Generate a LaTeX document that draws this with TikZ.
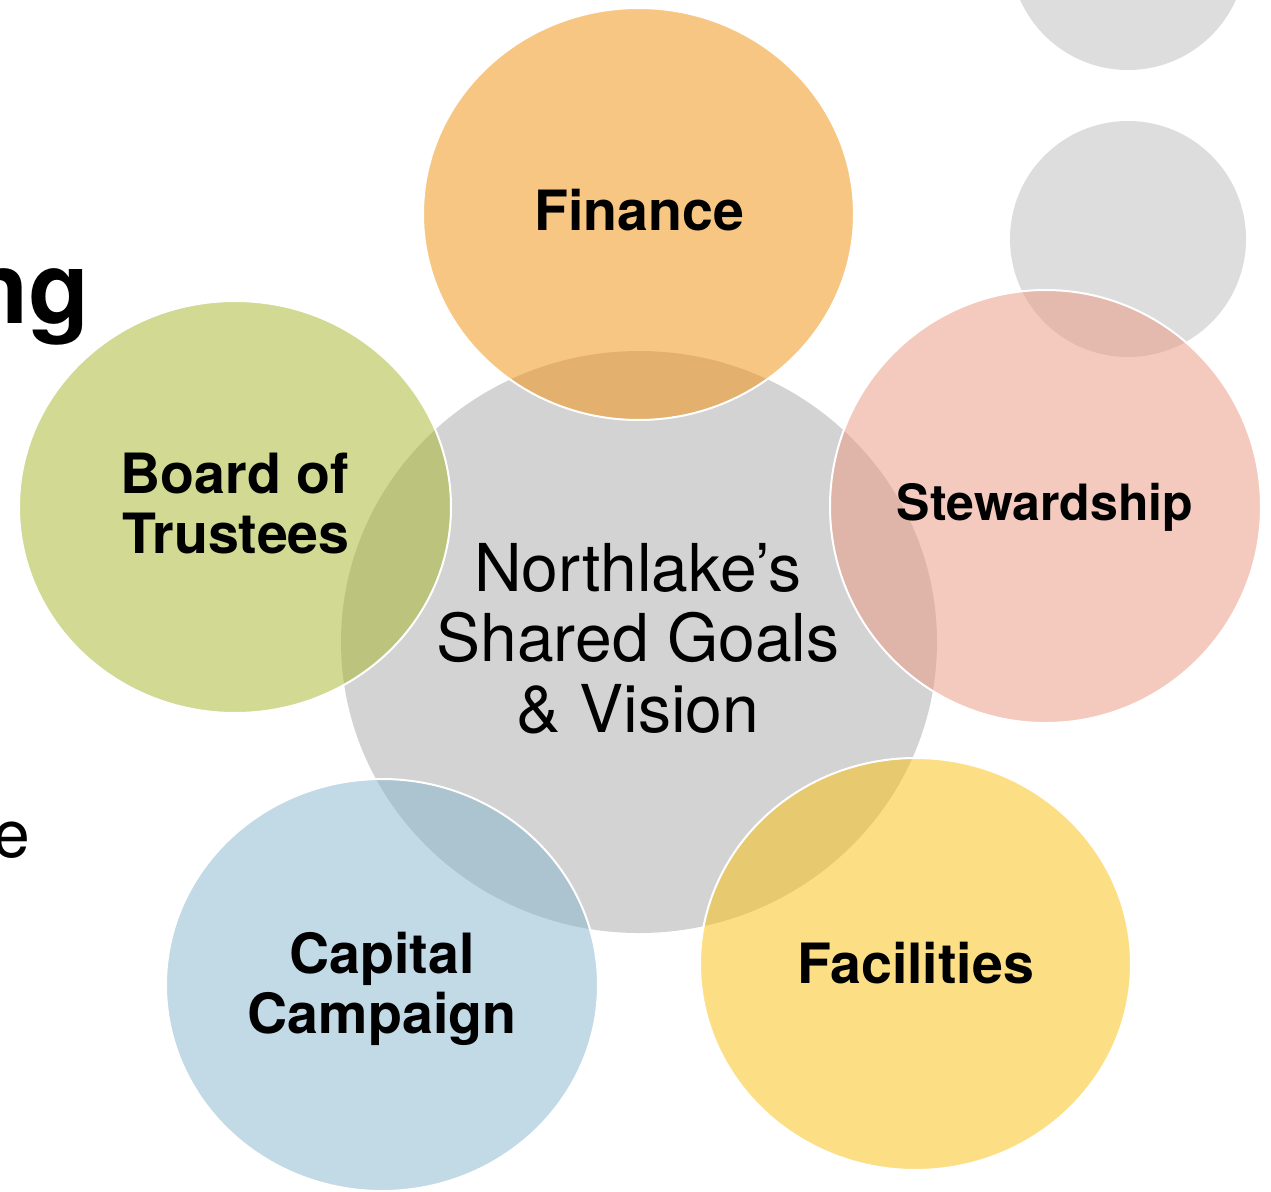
\documentclass[tikz,border=0pt]{standalone}
\usepackage{fontspec}
\setmainfont{TeX Gyre Heros}
\usetikzlibrary{shapes.geometric}
\definecolor{cfin}{RGB}{243,143,9}
\definecolor{cgrn}{RGB}{165,181,39}
\definecolor{cpnk}{RGB}{235,151,129}
\definecolor{cblu}{RGB}{135,181,207}
\definecolor{cyel}{RGB}{251,193,13}
\definecolor{cmid}{RGB}{211,211,211}
\definecolor{cdec}{RGB}{221,221,221}
\tikzset{
  bubble/.style={ellipse, draw=white, line width=2pt, fill opacity=0.5, inner sep=0pt, outer sep=0pt},
  decor/.style={circle, fill=cdec, inner sep=0pt, minimum size=236pt},
  lbl/.style={font=\bfseries\fontsize{55.5}{60}\selectfont, anchor=base, inner sep=0pt},
  ctr/.style={font=\fontsize{66}{70}\selectfont, anchor=base, inner sep=0pt}
}
\begin{document}
\begin{tikzpicture}[x=1pt,y=-1pt]
\useasboundingbox (0,0) rectangle (1271,1191);
\fill[white] (0,0) rectangle (1271,1191);
% decorative gray circles
\node[decor] (d1) at (1128,-48) {};
\node[decor] (d2) at (1128,239) {};
% center
\node[ellipse, fill=cmid, inner sep=0pt, minimum width=596pt, minimum height=582pt] (mid) at (639,642) {};
% outer bubbles
\node[bubble, fill=cfin, minimum width=431pt, minimum height=412pt] (fin) at (638.5,214) {};
\node[bubble, fill=cgrn, minimum width=432pt, minimum height=412pt] (bot) at (235,507) {};
\node[bubble, fill=cpnk, minimum width=431pt, minimum height=433pt] (stw) at (1045.5,506.5) {};
\node[bubble, fill=cblu, minimum width=432pt, minimum height=412pt] (cap) at (382,985) {};
\node[bubble, fill=cyel, minimum width=431pt, minimum height=412pt] (fac) at (915.5,964) {};
% labels
\node[lbl] (tfin) at (639,230) {Finance};
\node[lbl] (tbot1) at (235,493) {Board of};
\node[lbl] (tbot2) at (236,553) {Trustees};
\node[lbl, font=\bfseries\fontsize{50}{55}\selectfont] (tstw) at (1045,520) {Stewardship};
\node[lbl] (tcap1) at (382,973) {Capital};
\node[lbl] (tcap2) at (382,1033) {Campaign};
\node[lbl] (tfac) at (915.5,983) {Facilities};
\node[ctr] (c1) at (638,591) {Northlake’s};
\node[ctr] (c2) at (638,661) {Shared Goals};
\node[ctr] (c3) at (638,732) {\&\ Vision};
% cropped text at left edge
\node[font=\bfseries\fontsize{100}{110}\selectfont, anchor=base east, inner sep=0pt] (ng) at (90,323) {ng};
\node[font=\fontsize{66}{72}\selectfont, anchor=base east, inner sep=0pt] (e) at (30,857) {e};
\end{tikzpicture}
\end{document}
